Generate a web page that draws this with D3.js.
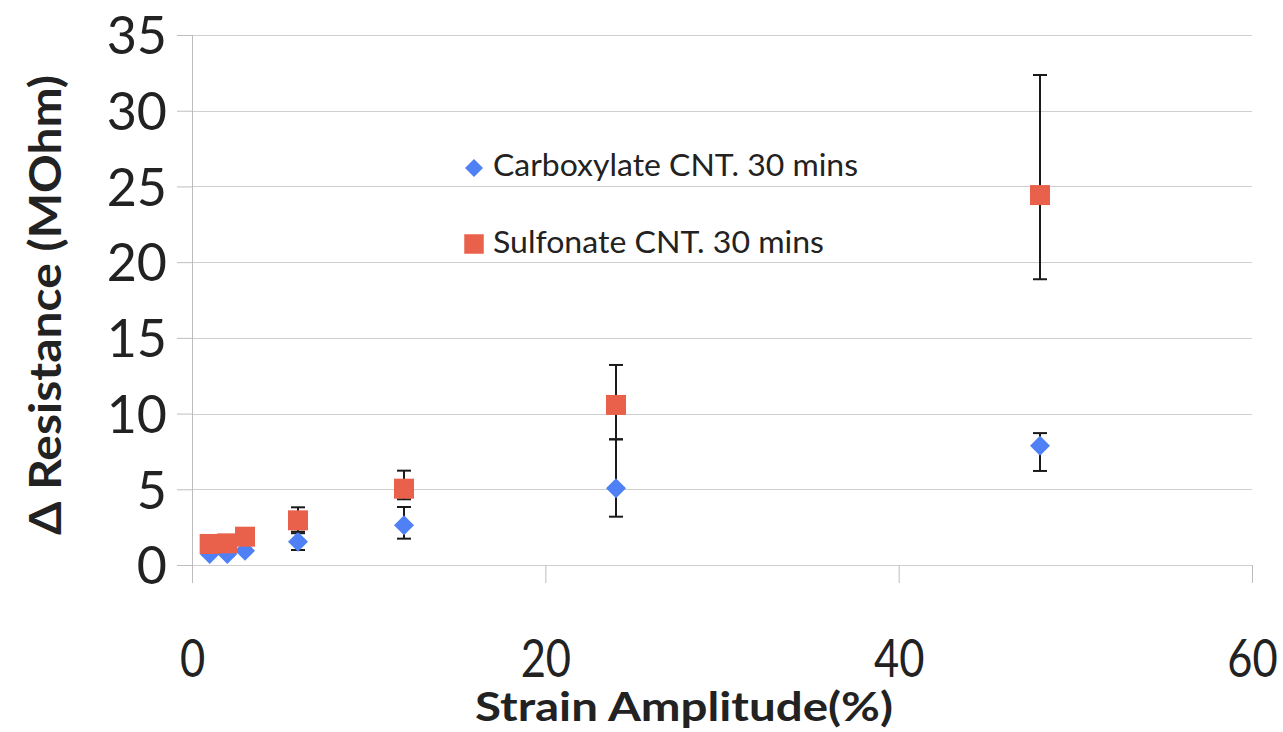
<!DOCTYPE html>
<html>
<head>
<meta charset="utf-8">
<script src="https://cdn.jsdelivr.net/npm/d3@7"></script>
<style>
  html, body { margin: 0; padding: 0; background: #fff; }
  svg { display: block; }
</style>
</head>
<body>
<svg id="chart" width="1283" height="732"></svg>
<script>
// ---- data ----
const strain = [1, 2, 3, 6, 12, 24, 48];

const carboxylateMean = [0.73, 0.73, 0.94, 1.54, 2.62, 5.07, 7.88];
const carboxylateLow  = [0.60, 0.60, 0.80, 0.99, 1.74, 3.19, 6.21];
const carboxylateHigh = [0.86, 0.86, 1.08, 2.10, 3.83, 8.30, 8.71];

const sulfonateMean = [1.39, 1.43, 1.87, 2.95, 5.04, 10.57, 24.43];
const sulfonateLow  = [1.10, 1.15, 1.60, 2.20, 4.34, 8.30, 18.87];
const sulfonateHigh = [1.65, 1.70, 2.15, 3.81, 6.23, 13.21, 32.36];

const xTicks = [0, 20, 40, 60];
const yTicks = [0, 5, 10, 15, 20, 25, 30, 35];

const seriesNames = ["Carboxylate CNT. 30 mins", "Sulfonate CNT. 30 mins"];
const xTitle = "Strain Amplitude(%)";
const yTitle = "\u0394 Resistance (MOhm)";

// ---- layout ----
const svg = d3.select("#chart");
const x = d3.scaleLinear().domain([0, 60]).range([192, 1252]);
const y = d3.scaleLinear().domain([0, 35]).range([565, 35]);

const gridColor = "#cfcfcf";
const axisColor = "#bdbdbd";
const blue = "#4f80f5";
const red = "#e9604b";
const tickFont = "Lato, 'Open Sans', sans-serif";

// horizontal gridlines
svg.append("g").selectAll("line").data(yTicks).join("line")
  .attr("x1", x(0)).attr("x2", x(60))
  .attr("y1", d => Math.round(y(d)) + 0.5).attr("y2", d => Math.round(y(d)) + 0.5)
  .attr("stroke", gridColor).attr("stroke-width", 1);

// y axis (line + left ticks + labels)
const yAxis = d3.axisLeft(y).tickValues(yTicks).tickSize(15).tickPadding(10)
  .tickFormat(d3.format("d"));
const gy = svg.append("g").attr("transform", `translate(${x(0)},0)`).call(yAxis);
gy.select(".domain").remove();
gy.selectAll(".tick line").attr("stroke", axisColor);
gy.selectAll(".tick text")
  .attr("font-family", tickFont).attr("font-size", 52).attr("fill", "#222")
  .attr("x", -25).attr("dy", "0.36em");
svg.append("line")
  .attr("x1", x(0) + 0.5).attr("x2", x(0) + 0.5)
  .attr("y1", y(35)).attr("y2", y(0) + 18)
  .attr("stroke", axisColor).attr("stroke-width", 1);

// x axis ticks (downward from y=0) and labels
const xAxis = d3.axisBottom(x).tickValues(xTicks).tickSize(18).tickPadding(0)
  .tickFormat(d3.format("d"));
const gx = svg.append("g").attr("transform", `translate(0,${y(0)})`).call(xAxis);
gx.select(".domain").remove();
gx.selectAll(".tick line").attr("stroke", axisColor);
gx.selectAll(".tick text").remove();
gx.selectAll(".tick").append("text")
  .attr("font-family", tickFont).attr("font-size", 53).attr("fill", "#222")
  .attr("text-anchor", "middle")
  .attr("transform", "translate(0,112) scale(0.82,1)")
  .text(d => d3.format("d")(d));

// axis titles
svg.append("text")
  .attr("x", 684).attr("y", 721)
  .attr("text-anchor", "middle")
  .attr("font-family", tickFont).attr("font-weight", "bold").attr("font-size", 40)
  .attr("fill", "#222")
  .attr("textLength", 418).attr("lengthAdjust", "spacingAndGlyphs")
  .text(xTitle);

svg.append("text")
  .attr("transform", "translate(61,305) rotate(-90)")
  .attr("text-anchor", "middle")
  .attr("font-family", tickFont).attr("font-weight", "bold").attr("font-size", 44)
  .attr("fill", "#222")
  .attr("textLength", 460).attr("lengthAdjust", "spacingAndGlyphs")
  .text(yTitle);

// ---- series ----
const diamond = d3.symbol().type(d3.symbolSquare).size(200)();
const square = d3.symbol().type(d3.symbolSquare).size(400)();

function drawSeries(mean, low, high, color, path, rotate) {
  const rows = strain.map((s, i) => ({ s, m: mean[i], lo: low[i], hi: high[i] }));
  const g = svg.append("g");
  const eb = g.append("g").attr("stroke", "#1a1a1a").attr("stroke-width", 2);
  eb.selectAll("line.v").data(rows).join("line").attr("class", "v")
    .attr("x1", d => x(d.s)).attr("x2", d => x(d.s))
    .attr("y1", d => y(d.lo)).attr("y2", d => y(d.hi));
  eb.selectAll("line.lo").data(rows).join("line").attr("class", "lo")
    .attr("x1", d => x(d.s) - 7).attr("x2", d => x(d.s) + 7)
    .attr("y1", d => y(d.lo)).attr("y2", d => y(d.lo));
  eb.selectAll("line.hi").data(rows).join("line").attr("class", "hi")
    .attr("x1", d => x(d.s) - 7).attr("x2", d => x(d.s) + 7)
    .attr("y1", d => y(d.hi)).attr("y2", d => y(d.hi));
  g.append("g").selectAll("path").data(rows).join("path")
    .attr("d", path).attr("fill", color)
    .attr("transform", d => `translate(${x(d.s)},${y(d.m)}) rotate(${rotate})`);
}

drawSeries(carboxylateMean, carboxylateLow, carboxylateHigh, blue, diamond, 45);
drawSeries(sulfonateMean, sulfonateLow, sulfonateHigh, red, square, 0);

// ---- legend ----
const legend = svg.append("g");
const legendRows = [
  { name: seriesNames[0], color: blue, path: d3.symbol().type(d3.symbolSquare).size(162)(), rot: 45, cy: 168, base: 176, len: 365 },
  { name: seriesNames[1], color: red, path: d3.symbol().type(d3.symbolSquare).size(380)(), rot: 0, cy: 244, base: 253, len: 331 }
];
legendRows.forEach(r => {
  legend.append("path").attr("d", r.path).attr("fill", r.color)
    .attr("transform", `translate(474,${r.cy}) rotate(${r.rot})`);
  legend.append("text")
    .attr("x", 493).attr("y", r.base)
    .attr("font-family", tickFont).attr("font-size", 31).attr("fill", "#222")
    .attr("textLength", r.len).attr("lengthAdjust", "spacingAndGlyphs")
    .text(r.name);
});
</script>
</body>
</html>
